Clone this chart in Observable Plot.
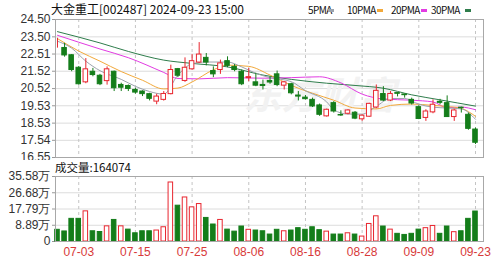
<!DOCTYPE html>
<html><head><meta charset="utf-8">
<script src="https://cdn.jsdelivr.net/npm/d3@7"></script>
<script src="https://cdn.jsdelivr.net/npm/@observablehq/plot@0.6"></script>
<style>
body{margin:0;background:#fff;}
#wrap{position:relative;width:503px;height:262px;overflow:hidden;font-family:"Noto Sans CJK SC","Liberation Sans",sans-serif;background:#fff;}
#wrap svg{position:absolute;left:0;}
.t{position:absolute;white-space:nowrap;color:#111;line-height:1;}
.mk{position:absolute;width:6px;height:3px;}
</style></head>
<body><div id="wrap"></div>
<script>
const dates = ["06-28","07-01","07-02","07-03","07-04","07-05","07-08","07-09","07-10","07-11","07-12","07-15","07-16","07-17","07-18","07-19","07-22","07-23","07-24","07-25","07-26","07-29","07-30","07-31","08-01","08-02","08-05","08-06","08-07","08-08","08-09","08-12","08-13","08-14","08-15","08-16","08-19","08-20","08-21","08-22","08-23","08-26","08-27","08-28","08-29","08-30","09-02","09-03","09-04","09-05","09-06","09-09","09-10","09-11","09-12","09-13","09-18","09-19","09-20","09-23"];
const open  = [22.92,22.86,22.44,21.72,20.88,21.49,21.26,20.95,21.49,20.73,20.67,20.44,20.35,20.20,19.77,19.87,20.20,21.64,20.96,21.63,22.02,22.29,21.53,21.59,22.10,21.77,21.49,21.12,20.88,20.73,20.96,21.34,20.69,20.77,20.12,20.00,19.87,19.55,18.92,19.68,19.00,19.07,19.13,18.75,18.90,19.43,20.21,19.83,20.26,20.18,19.87,19.45,18.83,19.15,19.76,19.68,18.88,19.42,19.01,18.16];
const high  = [23.42,23.13,22.48,21.79,22.25,21.68,21.34,21.77,21.53,20.83,20.73,20.54,20.39,20.25,20.20,20.35,21.87,21.68,22.29,22.48,23.17,22.54,21.77,22.16,22.35,21.91,21.59,21.68,21.40,21.01,21.20,21.53,20.92,20.83,20.35,20.12,19.97,19.63,19.34,19.77,19.24,19.30,19.20,19.01,19.68,20.73,20.63,20.35,20.28,20.20,19.97,19.53,19.30,19.87,19.90,20.10,19.34,19.45,19.11,18.25];
const low   = [22.85,22.33,21.49,20.72,20.80,21.20,20.69,20.72,20.35,20.35,20.35,20.20,20.06,19.81,19.59,19.80,20.16,21.15,20.88,21.59,21.97,21.83,21.15,21.34,21.72,21.49,20.69,20.92,20.63,20.44,20.77,20.63,20.44,20.16,19.81,19.87,19.43,18.92,18.88,19.11,18.92,19.01,18.73,18.63,18.86,19.36,19.77,19.77,20.04,19.97,19.57,18.73,18.63,19.07,19.59,18.86,18.63,19.11,18.12,17.30];
const close = [22.92,22.43,21.59,20.77,21.63,21.30,20.77,21.63,20.54,20.57,20.50,20.29,20.20,19.93,20.06,20.21,21.59,21.26,21.72,22.10,22.48,22.02,21.34,21.97,21.83,21.59,20.77,21.18,20.69,20.67,20.87,20.73,20.88,20.25,20.06,19.91,19.49,19.01,19.30,19.20,18.97,19.26,18.79,18.96,19.64,20.39,19.83,20.21,20.22,20.14,19.66,18.77,19.20,19.59,19.70,18.88,19.26,19.39,18.20,17.40];
// volume in 万 (10k shares)
const volume = [6.4,5.5,12.4,12.4,16.5,5.6,5.2,8.3,11.8,8.3,6.5,4.5,5.6,5.6,6.0,7.8,32.3,19.6,24.1,18.7,20.5,12.9,9.3,11.8,6.5,5.4,8.2,6.4,6.0,5.6,3.8,6.4,5.6,6.0,7.3,6.4,7.8,6.2,5.4,3.8,3.8,4.5,3.8,2.7,9.6,13.8,8.2,6.5,4.2,3.6,4.2,6.5,7.3,8.5,4.2,8.2,5.1,5.6,12.4,16.4074];
const volUp = [0,0,0,0,1,0,0,1,0,1,0,0,0,0,1,1,1,0,1,1,1,0,0,1,0,0,0,1,0,0,0,0,1,0,0,0,0,0,1,0,0,1,0,1,1,1,0,1,0,0,0,0,1,1,0,0,1,0,0,0];
// moving averages: [candle index, value]
const ma5  = [[0,23.25],[2,22.85],[4,22.1],[6,21.55],[9,21.05],[11,20.65],[13,20.35],[15,20.2],[17,21.3],[19,21.95],[21,22.05],[24,22.05],[26,21.77],[28,21.4],[30,21.15],[33,20.92],[35,20.4],[38,19.75],[39,19.3],[41,19.05],[43,19.05],[45,19.5],[47,19.95],[49,19.95],[51,19.62],[53,19.45],[55,19.4],[57,19.35],[59,18.75]];
const ma10 = [[0,23.4],[3,22.68],[6,22.1],[9,21.5],[12,21.0],[15,20.5],[17,20.55],[19,20.9],[22,21.6],[24,21.87],[27,21.8],[30,21.3],[33,20.7],[36,20.25],[39,19.85],[42,19.4],[45,19.35],[47,19.55],[50,19.63],[53,19.55],[55,19.49],[57,19.38],[59,18.92]];
const ma20 = [[0,23.59],[6,22.8],[10,22.3],[15,21.45],[17,21.1],[20,21.08],[24,21.15],[29,21.12],[33,21.15],[37,21.2],[40,20.85],[43,20.2],[46,19.92],[50,19.85],[53,19.75],[55,19.42],[57,19.45],[59,19.3]];
const ma30 = [[0,23.8],[6,23.15],[10,22.66],[15,22.16],[19,21.97],[24,21.77],[29,21.3],[33,21.05],[38,20.83],[42,20.7],[46,20.54],[50,20.16],[54,19.87],[59,19.51]];
const priceTicks = [24.50,23.50,22.51,21.52,20.52,19.53,18.53,17.54,16.55];
const volTicks = [0,8.89,17.79,26.68,35.58];
const volTickLabels = ["0","8.89万","17.79万","26.68万","35.58万"];
const labelDates = ["07-03","07-15","07-25","08-06","08-16","08-28","09-09","09-23"];
const maNames = ["5PMA","10PMA","20PMA","30PMA"];
const maColors = ["#9ba3ad","#f2a93b","#e23be2","#2f7d4c"];

const RED = "#e8262f", GREEN = "#147d1a";
const candles = dates.map((d,i)=>({i, o:open[i], h:high[i], l:low[i], c:close[i], up: close[i] >= open[i]}));
const vols = volume.map((v,i)=>({i, v, up: volUp[i] === 1}));
const labelIdx = labelDates.map(d => dates.indexOf(d));
const xDomain = [-0.28, 60.13];
const W = 0.32;
const font = '"Liberation Sans","DejaVu Sans",sans-serif';

const price = Plot.plot({
  width: 503, height: 160, marginLeft: 55, marginRight: 20, marginTop: 19, marginBottom: 3,
  x: {domain: xDomain, axis: null},
  y: {domain: [16.55, 24.50], axis: null},
  style: {fontFamily: font, fontSize: "12px", background: "white", overflow: "visible"},
  marks: [
    Plot.gridY(priceTicks, {stroke: "#dcdcdc", strokeOpacity: 1}),
    Plot.gridX(labelIdx, {stroke: "#c4c4c4", strokeOpacity: 1, strokeDasharray: "3,3"}),
    Plot.text(["东方财富"], {frameAnchor: "middle", dx: 50, dy: 8, fontSize: 38, fontWeight: "bold", fontStyle: "italic", fill: "#f2f2f2", fontFamily: '"Noto Sans CJK SC",sans-serif'}),
    Plot.axisY(priceTicks, {label: null, tickFormat: d => d.toFixed(2), tickSize: 3, tickPadding: 2, fill: "#333", stroke: "#999"}),
    Plot.line(ma30, {x: d => d[0], y: d => d[1], stroke: maColors[3], strokeWidth: 1, curve: "monotone-x"}),
    Plot.line(ma20, {x: d => d[0], y: d => d[1], stroke: maColors[2], strokeWidth: 1, curve: "monotone-x"}),
    Plot.line(ma10, {x: d => d[0], y: d => d[1], stroke: maColors[1], strokeWidth: 1, curve: "monotone-x"}),
    Plot.line(ma5, {x: d => d[0], y: d => d[1], stroke: maColors[0], strokeWidth: 1, curve: "monotone-x"}),
    Plot.ruleX(candles, {x: "i", y1: "l", y2: "h", stroke: d => d.up ? RED : GREEN}),
    Plot.rect(candles, {x1: d => d.i - W, x2: d => d.i + W, y1: "o", y2: "c", fill: d => d.up ? "white" : GREEN, stroke: d => d.up ? RED : GREEN}),
    Plot.frame({stroke: "#a8a8a8"})
  ]
});

const vol = Plot.plot({
  width: 503, height: 102, marginLeft: 55, marginRight: 20, marginTop: 16, marginBottom: 21,
  x: {domain: xDomain, axis: null},
  y: {domain: [0, 35.58], axis: null},
  style: {fontFamily: font, fontSize: "12px", background: "white", overflow: "visible"},
  marks: [
    Plot.gridY(volTicks, {stroke: "#dcdcdc", strokeOpacity: 1}),
    Plot.gridX(labelIdx, {stroke: "#c4c4c4", strokeOpacity: 1, strokeDasharray: "3,3"}),
    Plot.axisY(volTicks, {label: null, tickFormat: d => volTickLabels[volTicks.indexOf(d)], tickSize: 3, tickPadding: 2, fill: "#333", stroke: "#999"}),
    Plot.axisX(labelIdx, {label: null, tickFormat: i => dates[i], tickSize: 0, tickPadding: 6, fill: "#d83a3a"}),
    Plot.rect(vols, {x1: d => d.i - W, x2: d => d.i + W, y1: 0, y2: "v", fill: d => d.up ? "white" : GREEN, stroke: d => d.up ? RED : GREEN}),
    Plot.frame({stroke: "#a8a8a8"})
  ]
});

const wrap = document.getElementById("wrap");
price.style.top = "0px";
vol.style.top = "160px";
wrap.appendChild(price);
wrap.appendChild(vol);

const title = document.createElement("div");
title.className = "t";
title.style.left = "51px"; title.style.top = "3px"; title.style.fontSize = "12px";
title.textContent = "大金重工[002487] 2024-09-23 15:00";
wrap.appendChild(title);

const legTextX = [308, 347, 391, 431];
const legMarkX = [328, 377, 421, 465];
maNames.forEach((n, k) => {
  const s = document.createElement("div");
  s.className = "t";
  s.style.left = legTextX[k] + "px"; s.style.top = "5px"; s.style.fontSize = "10px"; s.style.letterSpacing = "-0.6px";
  s.textContent = n;
  wrap.appendChild(s);
  const m = document.createElement("div");
  m.className = "mk";
  m.style.left = legMarkX[k] + "px"; m.style.top = "9px"; m.style.background = maColors[k];
  wrap.appendChild(m);
});

const vlab = document.createElement("div");
vlab.className = "t";
vlab.style.left = "55px"; vlab.style.top = "162px"; vlab.style.fontSize = "11.5px";
vlab.textContent = "成交量:" + Math.round(volume[volume.length-1] * 10000);
wrap.appendChild(vlab);
</script>
</body></html>
